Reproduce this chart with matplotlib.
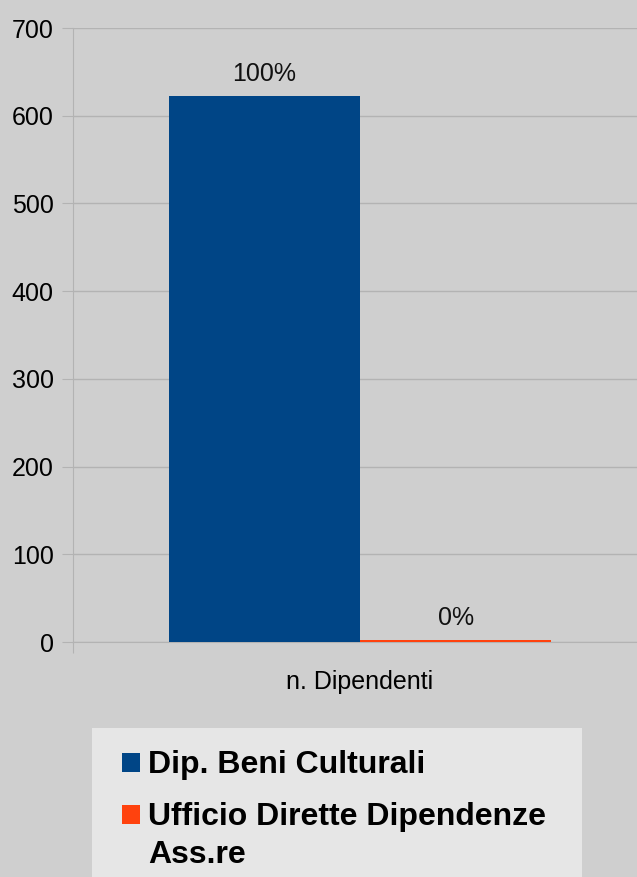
import matplotlib
matplotlib.use("Agg")
import matplotlib.pyplot as plt
from matplotlib.patches import Rectangle
import numpy as np

categories = ["n. Dipendenti"]
series_names = ["Dip. Beni Culturali", "Ufficio Dirette Dipendenze\nAss.re"]
series_values = [[622], [2]]
pct_labels = ["100%", "0%"]
colors = ["#004586", "#ff420e"]
yticks = [0, 100, 200, 300, 400, 500, 600, 700]

plt.rcParams['font.family'] = ['Liberation Sans', 'DejaVu Sans']
W, H = 637, 877
fig = plt.figure(figsize=(W/100, H/100), dpi=100, facecolor="#cfcfcf")
ax = fig.add_axes([73/W, 1-642/H, 574/W, 614/H])
ax.set_facecolor("#cfcfcf")

x = np.arange(len(categories))
width = 1/3
offsets = [-width/2, width/2]
for i, (name, vals) in enumerate(zip(series_names, series_values)):
    bars = ax.bar(x + offsets[i], vals, width=width, color=colors[i], label=name, zorder=3)
    for b, v in zip(bars, vals):
        ax.text(b.get_x()+b.get_width()/2, v + 12, pct_labels[i], ha='center', va='bottom',
                fontsize=18, color='#111111')

ax.set_xlim(-0.5, 0.5)
ax.set_ylim(0, 700)
ax.set_yticks(yticks)
ax.set_yticklabels([str(t) for t in yticks], fontsize=18)
ax.set_xticks([-0.5, 0.5], minor=False)
ax.set_xticklabels(["", ""])
ax.set_xticks([0], minor=True)
ax.set_xticklabels(categories, minor=True, fontsize=18)
ax.tick_params(axis='x', which='minor', length=0, pad=20)
ax.tick_params(axis='x', which='major', length=8, color='#b3b3b3')
ax.tick_params(axis='y', length=8, color='#b3b3b3', pad=6)
ax.grid(axis='y', color='#b3b3b3', linewidth=1, zorder=0)
for s in ['top', 'right']:
    ax.spines[s].set_visible(False)
ax.spines['left'].set_color('#b3b3b3')
ax.spines['bottom'].set_color('#b3b3b3')
ax.spines['left'].set_zorder(0)

# Legend drawn manually (pixel layout, top-left origin)
def fx(px): return px / W
def fy(py): return 1 - py / H

fig.patches.append(Rectangle((fx(92), fy(877)), (582-92)/W, (877-728)/H,
                             transform=fig.transFigure, facecolor='#e6e6e6',
                             edgecolor='none', zorder=0))
baseline = 773
for name, col in zip(series_names, colors):
    fig.patches.append(Rectangle((fx(122), fy(baseline - 1)), 18/W, 19/H,
                                 transform=fig.transFigure, facecolor=col,
                                 edgecolor='none', zorder=1))
    lines = name.split("\n")
    for k, line in enumerate(lines):
        fig.text(fx(148), fy(baseline + k*38), line, ha='left', va='baseline',
                 fontsize=23, fontweight='bold', color='black')
    baseline = baseline + (len(lines)-1)*38 + 52

fig.savefig("out.png", dpi=100, facecolor=fig.get_facecolor())
